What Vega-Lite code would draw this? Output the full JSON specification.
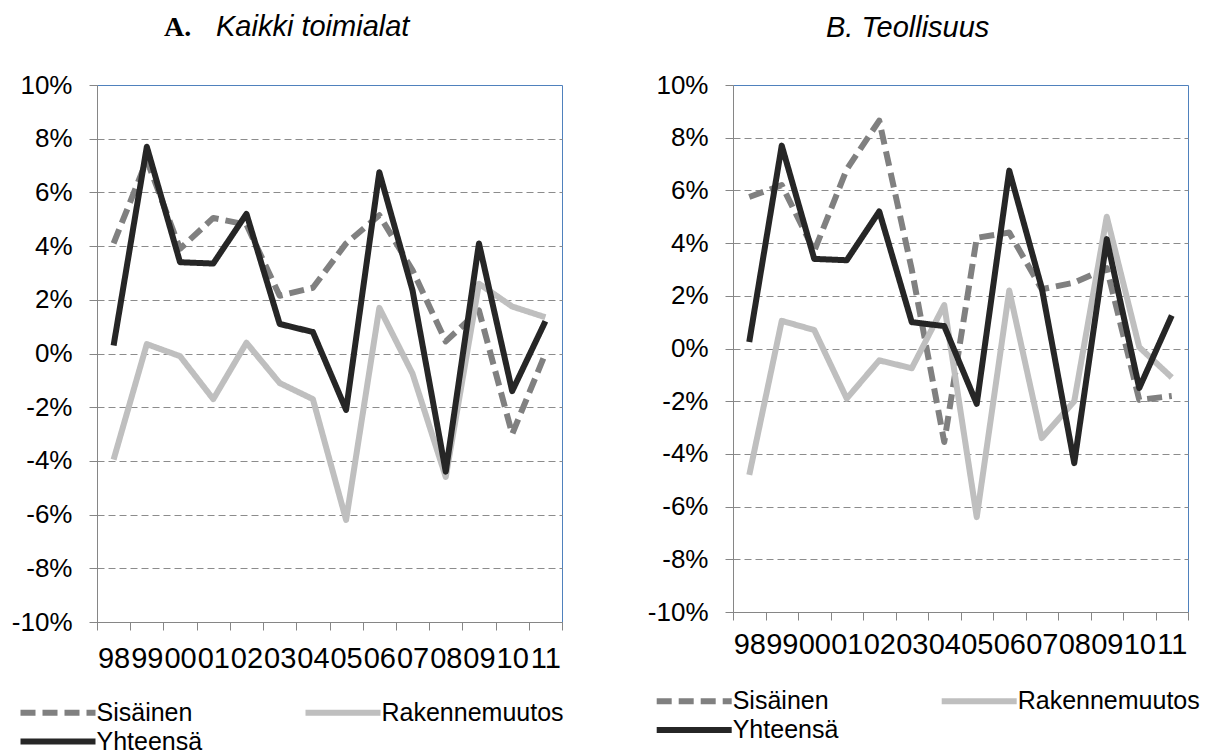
{
  "$schema": "https://vega.github.io/schema/vega-lite/v6.json",
  "background": "white",
  "padding": {"left": 10, "top": 12, "right": 5, "bottom": 0},
  "spacing": 81,
  "config": {
    "font": "Liberation Sans",
    "view": {"stroke": "#4F81BD", "strokeWidth": 1},
    "axis": {"labelColor": "black", "labelFont": "Liberation Sans", "domainColor": "#868686", "tickColor": "#868686", "tickSize": 8}
  },
  "datasets": {
    "A": [
      {"series": "Sisäinen", "year": "98", "value": 4.1},
      {"series": "Sisäinen", "year": "99", "value": 7.2},
      {"series": "Sisäinen", "year": "00", "value": 3.9},
      {"series": "Sisäinen", "year": "01", "value": 5.05},
      {"series": "Sisäinen", "year": "02", "value": 4.8},
      {"series": "Sisäinen", "year": "03", "value": 2.15},
      {"series": "Sisäinen", "year": "04", "value": 2.45},
      {"series": "Sisäinen", "year": "05", "value": 4.1},
      {"series": "Sisäinen", "year": "06", "value": 5.15},
      {"series": "Sisäinen", "year": "07", "value": 3.1},
      {"series": "Sisäinen", "year": "08", "value": 0.45},
      {"series": "Sisäinen", "year": "09", "value": 1.6},
      {"series": "Sisäinen", "year": "10", "value": -3.0},
      {"series": "Sisäinen", "year": "11", "value": 0.0},
      {"series": "Rakennemuutos", "year": "98", "value": -3.95},
      {"series": "Rakennemuutos", "year": "99", "value": 0.35},
      {"series": "Rakennemuutos", "year": "00", "value": -0.1},
      {"series": "Rakennemuutos", "year": "01", "value": -1.7},
      {"series": "Rakennemuutos", "year": "02", "value": 0.4},
      {"series": "Rakennemuutos", "year": "03", "value": -1.1},
      {"series": "Rakennemuutos", "year": "04", "value": -1.7},
      {"series": "Rakennemuutos", "year": "05", "value": -6.2},
      {"series": "Rakennemuutos", "year": "06", "value": 1.7},
      {"series": "Rakennemuutos", "year": "07", "value": -0.75},
      {"series": "Rakennemuutos", "year": "08", "value": -4.6},
      {"series": "Rakennemuutos", "year": "09", "value": 2.6},
      {"series": "Rakennemuutos", "year": "10", "value": 1.75},
      {"series": "Rakennemuutos", "year": "11", "value": 1.35},
      {"series": "Yhteensä", "year": "98", "value": 0.3},
      {"series": "Yhteensä", "year": "99", "value": 7.7},
      {"series": "Yhteensä", "year": "00", "value": 3.4},
      {"series": "Yhteensä", "year": "01", "value": 3.35},
      {"series": "Yhteensä", "year": "02", "value": 5.2},
      {"series": "Yhteensä", "year": "03", "value": 1.1},
      {"series": "Yhteensä", "year": "04", "value": 0.8},
      {"series": "Yhteensä", "year": "05", "value": -2.1},
      {"series": "Yhteensä", "year": "06", "value": 6.75},
      {"series": "Yhteensä", "year": "07", "value": 2.35},
      {"series": "Yhteensä", "year": "08", "value": -4.4},
      {"series": "Yhteensä", "year": "09", "value": 4.1},
      {"series": "Yhteensä", "year": "10", "value": -1.4},
      {"series": "Yhteensä", "year": "11", "value": 1.2}
    ],
    "B": [
      {"series": "Sisäinen", "year": "98", "value": 5.75},
      {"series": "Sisäinen", "year": "99", "value": 6.2},
      {"series": "Sisäinen", "year": "00", "value": 3.7},
      {"series": "Sisäinen", "year": "01", "value": 6.8},
      {"series": "Sisäinen", "year": "02", "value": 8.65},
      {"series": "Sisäinen", "year": "03", "value": 3.0},
      {"series": "Sisäinen", "year": "04", "value": -3.55},
      {"series": "Sisäinen", "year": "05", "value": 4.2},
      {"series": "Sisäinen", "year": "06", "value": 4.4},
      {"series": "Sisäinen", "year": "07", "value": 2.25},
      {"series": "Sisäinen", "year": "08", "value": 2.5},
      {"series": "Sisäinen", "year": "09", "value": 3.05},
      {"series": "Sisäinen", "year": "10", "value": -1.95},
      {"series": "Sisäinen", "year": "11", "value": -1.8},
      {"series": "Rakennemuutos", "year": "98", "value": -4.8},
      {"series": "Rakennemuutos", "year": "99", "value": 1.05},
      {"series": "Rakennemuutos", "year": "00", "value": 0.7},
      {"series": "Rakennemuutos", "year": "01", "value": -1.9},
      {"series": "Rakennemuutos", "year": "02", "value": -0.45},
      {"series": "Rakennemuutos", "year": "03", "value": -0.75},
      {"series": "Rakennemuutos", "year": "04", "value": 1.65},
      {"series": "Rakennemuutos", "year": "05", "value": -6.4},
      {"series": "Rakennemuutos", "year": "06", "value": 2.2},
      {"series": "Rakennemuutos", "year": "07", "value": -3.4},
      {"series": "Rakennemuutos", "year": "08", "value": -2.0},
      {"series": "Rakennemuutos", "year": "09", "value": 5.0},
      {"series": "Rakennemuutos", "year": "10", "value": 0.05},
      {"series": "Rakennemuutos", "year": "11", "value": -1.1},
      {"series": "Yhteensä", "year": "98", "value": 0.25},
      {"series": "Yhteensä", "year": "99", "value": 7.7},
      {"series": "Yhteensä", "year": "00", "value": 3.4},
      {"series": "Yhteensä", "year": "01", "value": 3.35},
      {"series": "Yhteensä", "year": "02", "value": 5.2},
      {"series": "Yhteensä", "year": "03", "value": 1.0},
      {"series": "Yhteensä", "year": "04", "value": 0.85},
      {"series": "Yhteensä", "year": "05", "value": -2.1},
      {"series": "Yhteensä", "year": "06", "value": 6.75},
      {"series": "Yhteensä", "year": "07", "value": 2.3},
      {"series": "Yhteensä", "year": "08", "value": -4.35},
      {"series": "Yhteensä", "year": "09", "value": 4.15},
      {"series": "Yhteensä", "year": "10", "value": -1.5},
      {"series": "Yhteensä", "year": "11", "value": 1.25}
    ]
  },
  "resolve": {
    "scale": {"color": "independent", "strokeDash": "independent"},
    "legend": {"color": "independent", "strokeDash": "independent"}
  },
  "hconcat": [
    {
      "width": 465,
      "height": 537,
      "data": {"name": "A"},
      "title": {"text": "Kaikki toimialat", "anchor": "start", "frame": "group", "dx": 119, "offset": -52, "fontSize": 29, "fontStyle": "italic", "fontWeight": "normal", "baseline": "alphabetic", "color": "black", "font": "Liberation Sans"},
      "mark": {"type": "line", "strokeWidth": 6, "strokeJoin": "round", "strokeCap": "butt"},
      "encoding": {
        "x": {
          "field": "year", "type": "ordinal", "sort": null, "bandPosition": 0.5,
          "scale": {"type": "band", "paddingInner": 0, "paddingOuter": 0},
          "axis": {"title": null, "tickBand": "extent", "labelAngle": 0, "labelFontSize": 29, "labelPadding": 14, "grid": false}
        },
        "y": {
          "field": "value", "type": "quantitative",
          "scale": {"domain": [-10, 10], "nice": false, "zero": false},
          "axis": {
            "values": [-10, -8, -6, -4, -2, 0, 2, 4, 6, 8, 10],
            "labelExpr": "datum.value + '%'",
            "labelFontSize": 26, "labelPadding": 17,
            "grid": true, "gridDash": [7, 4], "gridColor": "#8C8C8C", "gridWidth": 1,
            "gridOpacity": {"condition": {"test": "datum.value === 10", "value": 0}, "value": 1},
            "title": "A.", "titleAngle": 0, "titleX": 66.5, "titleY": -50,
            "titleFont": "Liberation Serif", "titleFontWeight": "bold", "titleFontSize": 28,
            "titleAlign": "left", "titleBaseline": "alphabetic", "titleColor": "black"
          }
        },
        "color": {
          "field": "series", "type": "nominal",
          "scale": {"domain": ["Sisäinen", "Rakennemuutos", "Yhteensä"], "range": ["#808080", "#BFBFBF", "#262626"]},
          "legend": {"title": null, "orient": "none", "legendX": -79.5, "legendY": 612, "direction": "horizontal", "columns": 2, "columnPadding": 91, "rowPadding": -3, "gridAlign": "each", "symbolType": "M-1,0H5", "symbolSize": 625, "symbolStrokeWidth": 6, "labelFontSize": 25, "labelOffset": 48, "labelColor": "black", "labelFont": "Liberation Sans", "labelLimit": 300}
        },
        "strokeDash": {
          "field": "series", "type": "nominal",
          "scale": {"domain": ["Sisäinen", "Rakennemuutos", "Yhteensä"], "range": [[15, 7], [1, 0], [1, 0]]},
          "legend": {"title": null, "orient": "none", "legendX": -79.5, "legendY": 612, "direction": "horizontal", "columns": 2, "columnPadding": 91, "rowPadding": -3, "gridAlign": "each", "symbolType": "M-1,0H5", "symbolSize": 625, "symbolStrokeWidth": 6, "labelFontSize": 25, "labelOffset": 48, "labelColor": "black", "labelFont": "Liberation Sans", "labelLimit": 300}
        }
      }
    },
    {
      "width": 455,
      "height": 527,
      "data": {"name": "B"},
      "title": {"text": "B. Teollisuus", "anchor": "start", "frame": "group", "dx": 93, "offset": 6, "fontSize": 29, "fontStyle": "italic", "fontWeight": "normal", "baseline": "alphabetic", "color": "black", "font": "Liberation Sans"},
      "mark": {"type": "line", "strokeWidth": 6, "strokeJoin": "round", "strokeCap": "butt"},
      "encoding": {
        "x": {
          "field": "year", "type": "ordinal", "sort": null, "bandPosition": 0.5,
          "scale": {"type": "band", "paddingInner": 0, "paddingOuter": 0},
          "axis": {"title": null, "tickBand": "extent", "labelAngle": 0, "labelFontSize": 29, "labelPadding": 10, "grid": false}
        },
        "y": {
          "field": "value", "type": "quantitative",
          "scale": {"domain": [-10, 10], "nice": false, "zero": false},
          "axis": {
            "values": [-10, -8, -6, -4, -2, 0, 2, 4, 6, 8, 10],
            "labelExpr": "datum.value + '%'",
            "labelFontSize": 26, "labelPadding": 17, "title": null,
            "grid": true, "gridDash": [7, 4], "gridColor": "#8C8C8C", "gridWidth": 1,
            "gridOpacity": {"condition": {"test": "datum.value === 10", "value": 0}, "value": 1}
          }
        },
        "color": {
          "field": "series", "type": "nominal",
          "scale": {"domain": ["Sisäinen", "Rakennemuutos", "Yhteensä"], "range": ["#808080", "#BFBFBF", "#262626"]},
          "legend": {"title": null, "orient": "none", "legendX": -79.3, "legendY": 600.5, "direction": "horizontal", "columns": 2, "columnPadding": 91, "rowPadding": -2, "gridAlign": "each", "symbolType": "M-1,0H5", "symbolSize": 625, "symbolStrokeWidth": 6, "labelFontSize": 25, "labelOffset": 48, "labelColor": "black", "labelFont": "Liberation Sans", "labelLimit": 300}
        },
        "strokeDash": {
          "field": "series", "type": "nominal",
          "scale": {"domain": ["Sisäinen", "Rakennemuutos", "Yhteensä"], "range": [[15, 7], [1, 0], [1, 0]]},
          "legend": {"title": null, "orient": "none", "legendX": -79.3, "legendY": 600.5, "direction": "horizontal", "columns": 2, "columnPadding": 91, "rowPadding": -2, "gridAlign": "each", "symbolType": "M-1,0H5", "symbolSize": 625, "symbolStrokeWidth": 6, "labelFontSize": 25, "labelOffset": 48, "labelColor": "black", "labelFont": "Liberation Sans", "labelLimit": 300}
        }
      }
    }
  ]
}
